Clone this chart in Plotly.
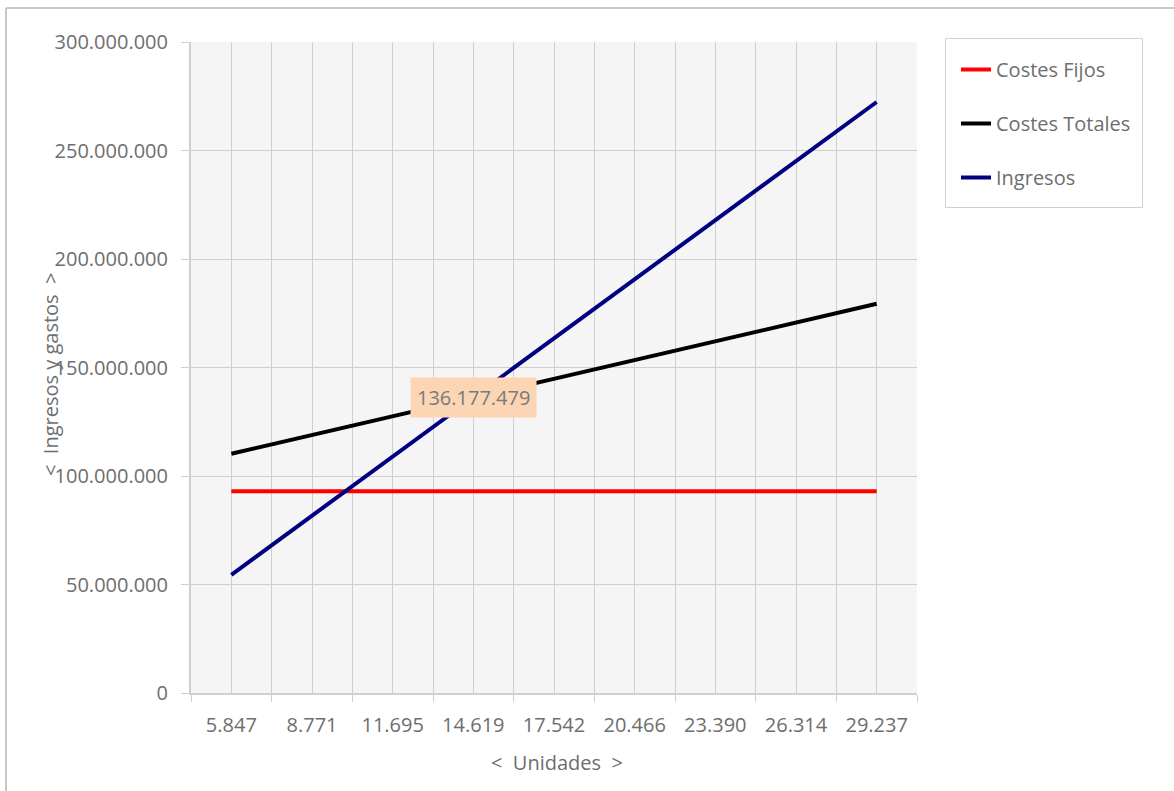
import plotly.graph_objects as go

unidades = ["5.847", "8.771", "11.695", "14.619", "17.542", "20.466", "23.390", "26.314", "29.237"]
costes_fijos = [93000000, 93000000, 93000000, 93000000, 93000000, 93000000, 93000000, 93000000, 93000000]
costes_totales = [110270000, 118900000, 127540000, 136177479, 144810000, 153450000, 162080000, 170720000, 179350000]
ingresos = [54470000, 81710000, 108940000, 136177479, 163410000, 190650000, 217890000, 245120000, 272350000]
punto_equilibrio = 136177479
idx_equilibrio = 3

FONT = "Open Sans"
TXT = "#6e6e6e"
GRID = "#cfcfcf"
FS = 20
NB = "\u00a0\u00a0"

xs = list(range(len(unidades)))

fig = go.Figure()
series = [("Costes Fijos", costes_fijos, "#ff0000"),
          ("Costes Totales", costes_totales, "#000000"),
          ("Ingresos", ingresos, "#000080")]
for i, (name, vals, col) in enumerate(series):
    fig.add_trace(go.Scatter(x=xs, y=vals, name=name, mode="lines",
                             line=dict(color=col, width=4), legendgroup=f"g{i}"))

fig.add_annotation(x=idx_equilibrio, y=punto_equilibrio, xref="x", yref="y",
                   text=f"{punto_equilibrio:,}".replace(",", "."), showarrow=False,
                   bgcolor="#fcd5b4", borderpad=6,
                   font=dict(family=FONT, size=FS, color="#7a7a7a"))

W, H = 1174, 791
L, R, T, B = 191, 917, 42, 693
pw, ph = R - L, B - T
def px(x): return (x - L) / pw
def py(y): return (B - y) / ph

# axis titles
fig.add_annotation(x=px(557), y=py(762), xref="paper", yref="paper", text=f"<{NB}Unidades{NB}>",
                   showarrow=False, font=dict(family=FONT, size=FS, color=TXT),
                   xanchor="center", yanchor="middle")
fig.add_annotation(x=px(50), y=py(375), xref="paper", yref="paper", text=f"<{NB}Ingresos y gastos{NB}>",
                   showarrow=False, textangle=-90, font=dict(family=FONT, size=FS, color=TXT),
                   xanchor="center", yanchor="middle")

# chart border (top and left visible) and legend box
fig.add_shape(type="line", xref="paper", yref="paper", x0=px(6), x1=px(1180), y0=py(8), y1=py(8),
              line=dict(color="#c8c8c8", width=2))
fig.add_shape(type="line", xref="paper", yref="paper", x0=px(6), x1=px(6), y0=py(8), y1=py(800),
              line=dict(color="#c8c8c8", width=2))
fig.add_shape(type="rect", xref="paper", yref="paper", x0=px(945.5), x1=px(1142.5), y0=py(38.5), y1=py(207.5),
              line=dict(color="#d0d0d0", width=1))

fig.update_layout(
    width=W, height=H,
    margin=dict(l=L, r=W - R, t=T, b=H - B),
    paper_bgcolor="white", plot_bgcolor="#f5f5f5",
    separators=",.",
    font=dict(family=FONT, color=TXT),
    showlegend=True,
    legend=dict(x=px(956), y=py(50), xanchor="left", yanchor="top",
                borderwidth=0, bgcolor="rgba(0,0,0,0)",
                font=dict(family=FONT, size=FS, color=TXT),
                tracegroupgap=25, traceorder="grouped", itemwidth=30),
    xaxis=dict(range=[-0.5, len(unidades) - 0.5], tickmode="array", tickvals=xs, ticktext=unidades,
               ticks="", showgrid=True, gridcolor=GRID, gridwidth=1,
               showline=True, linecolor=GRID, linewidth=2, mirror=False, zeroline=False,
               ticklabelstandoff=13,
               tickfont=dict(family=FONT, size=FS, color=TXT),
               minor=dict(tickvals=[i - 0.5 for i in range(len(unidades) + 1)], ticks="outside",
                          ticklen=7, tickcolor=GRID, showgrid=True, gridcolor=GRID, gridwidth=1)),
    yaxis=dict(range=[0, 300000000], dtick=50000000, tickformat=",d",
               ticks="outside", ticklen=8, tickcolor=GRID, showgrid=True, gridcolor=GRID,
               showline=True, linecolor=GRID, linewidth=2, zeroline=False,
               ticklabelstandoff=9,
               tickfont=dict(family=FONT, size=FS, color=TXT)),
)

fig.write_html("out.html")
